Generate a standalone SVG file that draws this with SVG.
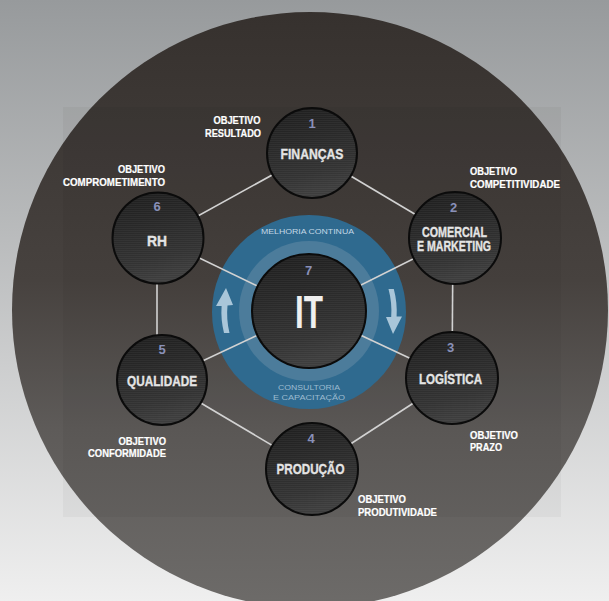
<svg xmlns="http://www.w3.org/2000/svg" width="609" height="601" viewBox="0 0 609 601">
<defs>
<linearGradient id="bg" x1="0" y1="0" x2="0" y2="1">
<stop offset="0" stop-color="#979a9c"/><stop offset="1" stop-color="#efefef"/>
</linearGradient>
<linearGradient id="big" x1="0" y1="0" x2="0" y2="1">
<stop offset="0" stop-color="#36312e"/><stop offset="0.45" stop-color="#47423f"/><stop offset="0.7" stop-color="#5e5b59"/><stop offset="1" stop-color="#6d6b69"/>
</linearGradient>
<linearGradient id="ng" x1="0" y1="0" x2="0.25" y2="1">
<stop offset="0" stop-color="#1d1d1d"/><stop offset="0.5" stop-color="#2b2b2b"/><stop offset="0.8" stop-color="#333"/><stop offset="1" stop-color="#3d3d3d"/>
</linearGradient>
<pattern id="ln" width="4" height="2" patternUnits="userSpaceOnUse"><rect width="4" height="1" fill="#fff" opacity="0.04"/></pattern>
</defs>
<style>
.node{fill:url(#ng);stroke:#0b0b0b;stroke-width:2}
.tex{fill:url(#ln)}
.lbl{font-family:"Liberation Sans",Arial,sans-serif;font-weight:bold;fill:#e4e4e4;stroke:#e4e4e4;stroke-width:0.35;font-size:15px}
.num{font-family:"Liberation Sans",Arial,sans-serif;font-weight:bold;fill:#8990b8;font-size:13px;text-anchor:middle}
.obj{font-family:"Liberation Sans",Arial,sans-serif;font-weight:bold;fill:#ffffff;stroke:#ffffff;stroke-width:0.2;font-size:10px}
.ring{font-family:"Liberation Sans",Arial,sans-serif;font-size:8px}
.con{stroke:#d2d2d2;stroke-width:1.6;fill:none}
.arr{fill:#a9c6d9}
</style>
<rect width="609" height="601" fill="url(#bg)"/>
<circle cx="310" cy="310" r="298" fill="url(#big)"/>
<rect x="63" y="107" width="498" height="410" fill="#000" opacity="0.035"/>

<g id="ring">
<circle cx="309" cy="312" r="97" fill="#2f6a8f"/>
<circle cx="309" cy="311" r="70" fill="#4c7c9b"/>
<path class="arr" d="M224,333 A85,85 0 0 1 221.6,306 L216,306 L226,288 L233,305 L227.5,305.5 A82,82 0 0 0 229.5,333 Z"/>
<path class="arr" d="M388.5,289 A85,85 0 0 1 391.2,317 L386,317 L393,334 L402,316.5 L396.6,316.5 A88,88 0 0 0 393.8,289 Z"/>
<text class="ring" x="261" y="234" textLength="93" lengthAdjust="spacingAndGlyphs" fill="#c4d8e6" font-size="7.5">MELHORIA CONTINUA</text>
<text class="ring" x="278" y="390" textLength="62" lengthAdjust="spacingAndGlyphs" fill="#9dbbd0">CONSULTORIA</text>
<text class="ring" x="273" y="400" textLength="72" lengthAdjust="spacingAndGlyphs" fill="#9dbbd0">E CAPACITAÇÃO</text>
</g>

<g id="connectors">
<line class="con" x1="312" y1="153" x2="455" y2="238"/>
<line class="con" x1="453" y1="238" x2="452" y2="378"/>
<line class="con" x1="452" y1="378" x2="312" y2="469"/>
<line class="con" x1="312" y1="469" x2="162" y2="380"/>
<line class="con" x1="157" y1="380" x2="157" y2="238"/>
<line class="con" x1="158" y1="238" x2="312" y2="153"/>
<line class="con" x1="309" y1="311" x2="455" y2="238"/>
<line class="con" x1="309" y1="311" x2="452" y2="378"/>
<line class="con" x1="309" y1="311" x2="162" y2="380"/>
<line class="con" x1="309" y1="311" x2="158" y2="238"/>
</g>

<g id="n7">
<circle class="node" cx="309" cy="311" r="57"/>
<circle class="tex" cx="309" cy="311" r="56"/>
<text class="num" x="308.5" y="275" font-size="11">7</text>
<text x="295" y="328" textLength="28" lengthAdjust="spacingAndGlyphs" font-family="Liberation Sans, Arial, sans-serif" font-weight="bold" font-size="47" fill="#efefef">IT</text>
</g>

<g id="n1">
<circle class="node" cx="312" cy="153" r="45"/>
<circle class="tex" cx="312" cy="153" r="44"/>
<text class="num" x="312" y="128">1</text>
<text class="lbl" x="280.5" y="159" textLength="63" lengthAdjust="spacingAndGlyphs">FINANÇAS</text>
<text class="obj" x="213.5" y="124" textLength="47" lengthAdjust="spacingAndGlyphs">OBJETIVO</text>
<text class="obj" x="205" y="137" textLength="56" lengthAdjust="spacingAndGlyphs">RESULTADO</text>
</g>

<g id="n2">
<circle class="node" cx="455" cy="238" r="46"/>
<circle class="tex" cx="455" cy="238" r="45"/>
<text class="num" x="453.5" y="212">2</text>
<text class="lbl" font-size="12"><tspan x="422" y="236.5" textLength="65" lengthAdjust="spacingAndGlyphs">COMERCIAL</tspan><tspan x="417" y="251" textLength="74" lengthAdjust="spacingAndGlyphs">E MARKETING</tspan></text>
<text class="obj" x="470" y="175" textLength="47" lengthAdjust="spacingAndGlyphs">OBJETIVO</text>
<text class="obj" x="470" y="188" textLength="90" lengthAdjust="spacingAndGlyphs">COMPETITIVIDADE</text>
</g>

<g id="n3">
<circle class="node" cx="452" cy="378" r="46"/>
<circle class="tex" cx="452" cy="378" r="45"/>
<text class="num" x="450.5" y="352">3</text>
<text class="lbl" x="419" y="384" textLength="63" lengthAdjust="spacingAndGlyphs">LOGÍSTICA</text>
<text class="obj" x="470" y="439" textLength="48" lengthAdjust="spacingAndGlyphs">OBJETIVO</text>
<text class="obj" x="470" y="451" textLength="32" lengthAdjust="spacingAndGlyphs">PRAZO</text>
</g>

<g id="n4">
<circle class="node" cx="312" cy="469" r="46"/>
<circle class="tex" cx="312" cy="469" r="45"/>
<text class="num" x="311" y="443">4</text>
<text class="lbl" x="276.5" y="474" textLength="68" lengthAdjust="spacingAndGlyphs">PRODUÇÃO</text>
<text class="obj" x="358" y="503" textLength="48" lengthAdjust="spacingAndGlyphs">OBJETIVO</text>
<text class="obj" x="358" y="516" textLength="79" lengthAdjust="spacingAndGlyphs">PRODUTIVIDADE</text>
</g>

<g id="n5">
<circle class="node" cx="162" cy="380" r="45"/>
<circle class="tex" cx="162" cy="380" r="44"/>
<text class="num" x="162" y="354">5</text>
<text class="lbl" x="127" y="386" textLength="70" lengthAdjust="spacingAndGlyphs">QUALIDADE</text>
<text class="obj" x="118.5" y="445" textLength="47.5" lengthAdjust="spacingAndGlyphs">OBJETIVO</text>
<text class="obj" x="88" y="457" textLength="78" lengthAdjust="spacingAndGlyphs">CONFORMIDADE</text>
</g>

<g id="n6">
<circle class="node" cx="158" cy="238" r="45.5"/>
<circle class="tex" cx="158" cy="238" r="44.5"/>
<text class="num" x="157" y="211">6</text>
<text class="lbl" x="147" y="246" font-size="16" textLength="20" lengthAdjust="spacingAndGlyphs">RH</text>
<text class="obj" x="118" y="173" textLength="47" lengthAdjust="spacingAndGlyphs">OBJETIVO</text>
<text class="obj" x="63" y="186" textLength="102" lengthAdjust="spacingAndGlyphs">COMPROMETIMENTO</text>
</g>
</svg>
